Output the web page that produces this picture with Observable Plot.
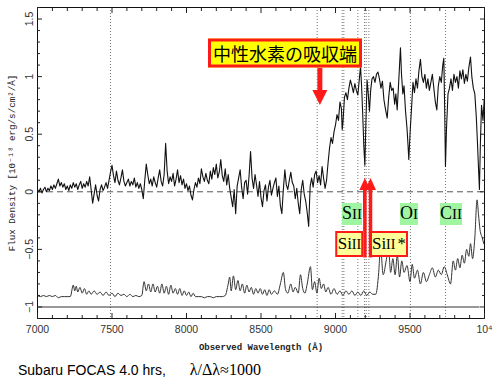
<!DOCTYPE html>
<html><head><meta charset="utf-8">
<script src="https://cdn.jsdelivr.net/npm/d3@7"></script>
<script src="https://cdn.jsdelivr.net/npm/@observablehq/plot@0.6"></script>
<style>
body{margin:0;background:#fff;}
#wrap{position:relative;width:500px;height:377px;overflow:hidden;background:#fff;}
.ann{position:absolute;transform:translate(-50%,-50%);white-space:nowrap;color:#000;}
.jp{font-family:"Noto Sans CJK JP",sans-serif;font-size:18px;line-height:19px;background:#ffff00;border:3px solid #ff1a1a;padding:2px 2px;}
.green{font-family:"Liberation Serif",serif;font-size:18px;line-height:19px;background:#a0f5a0;padding:1px 0px;}
.green .ion{font-size:15px;}
.pale{font-family:"Liberation Serif",serif;font-size:17px;line-height:19px;background:#ffff99;border:2px solid #ff1a1a;padding:1px 0px;}
.pale .ion{font-size:14px;}
.star{margin-left:2px;}
#caption{position:absolute;left:18px;top:362px;font-family:"Liberation Sans",Arial,sans-serif;font-size:14px;line-height:16px;white-space:nowrap;}
#caption .ser{font-family:"Liberation Serif",serif;font-size:16px;margin-left:24px;}
</style></head>
<body><div id="wrap"><div id="chart"></div><div id="caption">Subaru FOCAS 4.0 hrs,<span class="ser">λ/Δλ≈1000</span></div></div>
<script>
// Object spectrum, blue part: 7000–8950 Å every 10 Å
const specBlueStart = 7000, specBlueStep = 10;
const specBlueFlux = [
0.02,0.00,0.03,-0.01,0.02,0.04,0.00,0.03,0.01,0.05,0.02,
0.06,0.03,0.07,0.11,0.05,0.08,0.04,0.07,0.02,0.05,
0.01,0.06,0.03,0.08,0.04,0.07,0.02,0.06,0.09,0.03,
0.07,0.04,0.09,0.05,0.13,0.02,-0.10,-0.02,0.06,-0.03,
-0.08,0.02,0.06,0.01,0.04,0.08,0.03,0.10,0.17,0.23,
0.14,0.08,0.18,0.10,0.06,0.12,0.19,0.09,0.05,0.08,
0.11,0.05,0.09,0.06,0.12,0.04,0.08,0.03,0.07,0.02,
-0.06,0.10,0.24,0.15,0.07,0.11,0.05,0.13,0.08,0.04,
0.12,0.19,0.09,0.05,0.15,0.42,0.18,0.07,0.13,0.09,
0.16,0.05,0.11,0.19,0.08,0.14,0.06,0.11,0.03,0.07,
0.01,0.05,-0.03,-0.07,0.02,0.08,0.04,0.12,0.07,0.20,
0.13,0.09,0.16,0.10,0.07,0.18,0.11,0.21,0.15,0.24,
0.12,0.17,0.28,0.14,0.09,0.20,0.06,0.15,0.03,-0.05,
-0.13,0.02,-0.19,0.05,0.12,0.19,0.04,-0.06,0.08,0.10,
-0.02,0.14,0.35,0.12,0.03,0.15,0.06,-0.04,0.09,-0.05,
-0.13,0.01,0.06,-0.08,0.04,0.10,-0.03,0.03,0.08,0.12,
-0.04,0.05,-0.12,-0.19,0.02,0.19,0.06,0.02,0.10,0.17,
0.08,0.05,-0.06,0.03,-0.10,-0.19,0.02,0.10,-0.02,-0.08,
-0.18,-0.30,0.05,0.12,0.04,0.15,0.18,0.08,0.14,0.06,
0.22,0.12,0.03,0.10,0.25];
// Object spectrum, red part (above the Lyman-alpha edge)
const specRedWave = [8960,8970,8980,8990,9000,9010,9020,9030,9040,9045,9050,9060,9070,9080,9090,9100,9110,9120,9130,9140,9150,9160,9168,9175,9182,9190,9197,9204,9212,9220,9228,9236,9245,9255,9265,9275,9285,9295,9305,9315,9325,9335,9347,9357,9367,9377,9387,9397,9405,9414,9422,9430,9436,9443,9452,9460,9470,9480,9487,9492,9500,9510,9520,9530,9540,9550,9560,9570,9580,9590,9600,9610,9620,9630,9640,9650,9660,9670,9680,9690,9700,9710,9720,9727,9733,9738,9745,9755,9765,9775,9785,9795,9805,9815,9825,9835,9845,9855,9865,9875,9885,9895,9906,9915,9925,9935,9945,9952,9960,9966,9972,9980,9990,9998];
const specRedFlux = [0.38,0.47,0.42,0.52,0.58,0.67,0.62,0.78,0.72,0.54,0.60,0.82,0.86,0.80,0.90,0.97,0.92,0.86,0.94,0.88,0.84,0.98,1.09,0.92,0.70,0.40,0.23,0.60,0.97,0.85,0.70,0.88,0.98,1.00,0.95,1.02,1.04,0.98,0.90,0.96,0.80,0.72,0.64,0.82,0.95,0.88,0.90,0.76,0.85,0.71,0.90,1.10,1.25,1.02,0.85,0.92,0.70,0.55,0.40,0.28,0.50,0.72,0.95,0.86,0.98,0.90,1.05,1.15,1.00,0.95,1.02,0.90,0.98,0.88,0.95,1.02,0.90,0.78,0.71,0.92,1.00,0.95,1.10,1.16,0.70,0.22,0.55,0.85,0.90,0.98,0.88,1.02,0.95,1.00,0.90,1.05,0.98,1.06,0.94,1.02,0.96,1.08,1.17,1.00,0.90,0.85,0.65,0.45,0.20,0.02,0.40,0.75,0.62,0.80];
// Noise / sky spectrum (offset by -1)
const skyWave = [7000,7020,7040,7060,7080,7100,7120,7140,7160,7180,7200,7220,7240,7250,7260,7270,7285,7300,7315,7330,7345,7360,7380,7400,7420,7440,7460,7480,7500,7520,7540,7560,7580,7600,7620,7640,7660,7680,7700,7715,7730,7745,7760,7775,7790,7805,7820,7835,7850,7865,7880,7895,7910,7925,7940,7955,7970,7985,8000,8015,8030,8045,8060,8080,8100,8120,8140,8160,8180,8200,8220,8240,8260,8280,8290,8300,8315,8330,8345,8360,8375,8390,8405,8420,8435,8450,8465,8480,8495,8510,8525,8540,8555,8570,8590,8610,8630,8650,8665,8680,8700,8715,8730,8750,8765,8780,8795,8810,8832,8845,8860,8875,8890,8905,8920,8935,8950,8970,8990,9010,9030,9050,9070,9090,9110,9130,9150,9170,9190,9210,9230,9250,9270,9290,9302,9320,9340,9356,9370,9385,9400,9415,9430,9445,9460,9480,9500,9515,9530,9550,9570,9590,9610,9630,9650,9670,9690,9710,9730,9750,9772,9790,9805,9820,9835,9850,9865,9880,9895,9906,9920,9935,9950,9960,9970,9985,9995];
const skyFlux = [-0.90,-0.91,-0.90,-0.91,-0.90,-0.91,-0.90,-0.92,-0.91,-0.91,-0.91,-0.91,-0.81,-0.86,-0.82,-0.87,-0.83,-0.88,-0.84,-0.89,-0.86,-0.89,-0.86,-0.89,-0.87,-0.90,-0.87,-0.90,-0.88,-0.91,-0.88,-0.90,-0.89,-0.91,-0.89,-0.91,-0.90,-0.91,-0.90,-0.78,-0.86,-0.80,-0.87,-0.80,-0.87,-0.82,-0.88,-0.80,-0.88,-0.82,-0.89,-0.81,-0.88,-0.84,-0.89,-0.84,-0.90,-0.86,-0.90,-0.87,-0.91,-0.88,-0.91,-0.91,-0.91,-0.92,-0.91,-0.91,-0.92,-0.91,-0.91,-0.91,-0.90,-0.80,-0.74,-0.86,-0.73,-0.85,-0.77,-0.86,-0.80,-0.88,-0.81,-0.87,-0.83,-0.89,-0.84,-0.88,-0.84,-0.89,-0.85,-0.90,-0.85,-0.89,-0.86,-0.89,-0.80,-0.70,-0.85,-0.88,-0.80,-0.87,-0.83,-0.88,-0.72,-0.84,-0.88,-0.80,-0.65,-0.85,-0.78,-0.88,-0.75,-0.84,-0.80,-0.87,-0.83,-0.89,-0.84,-0.89,-0.86,-0.90,-0.86,-0.89,-0.86,-0.90,-0.87,-0.90,-0.86,-0.90,-0.87,-0.89,-0.89,-0.70,-0.48,-0.72,-0.60,-0.49,-0.70,-0.58,-0.72,-0.55,-0.74,-0.60,-0.70,-0.64,-0.78,-0.63,-0.75,-0.68,-0.80,-0.70,-0.78,-0.72,-0.66,-0.74,-0.68,-0.72,-0.65,-0.72,-0.80,-0.60,-0.68,-0.58,-0.66,-0.55,-0.62,-0.50,-0.56,-0.45,-0.58,-0.40,-0.07,-0.20,-0.33,-0.40,-0.45];
// Marked line positions (dotted verticals)
const lineWaves = [7490,8877,9045,9056,9150,9195,9206,9224,9503,9738];
// Axis ticks
const xTickValues = [7000,7500,8000,8500,9000,9500,10000];
const xTickLabels = ["7000","7500","8000","8500","9000","9500","10⁴"];
const xMinorTicks = [7100,7200,7300,7400,7600,7700,7800,7900,8100,8200,8300,8400,8600,8700,8800,8900,9100,9200,9300,9400,9600,9700,9800,9900];
const yTickValues = [-1,-0.5,0,0.5,1,1.5];
const yTickLabels = ["−1","−0.5","0","0.5","1","1.5"];
const yMinorTicks = [-1.1,-0.9,-0.8,-0.7,-0.6,-0.4,-0.3,-0.2,-0.1,0.1,0.2,0.3,0.4,0.6,0.7,0.8,0.9,1.1,1.2,1.3,1.4,1.6];
// Reference levels
const zeroLevel = [0];
const skyBase = [-1];
// Annotations
const annMain = ["中性水素の吸収端","S","O","C","Si","Si"];
const annIon = ["","II","I","II","II","II"];
const annStar = [false,false,false,false,false,true];
const annWave = [8664,9114,9497,9779,9097,9362];
const annFlux = [1.20,-0.20,-0.20,-0.20,-0.46,-0.46];
const annKind = ["jp","green","green","green","pale","pale"];
// Arrows: wavelength, tail, neck (head base), tip
const arrowWave = [8895,9197,9235];
const arrowTail = [1.075,-0.57,-0.57];
const arrowNeck = [0.88,0.02,0.02];
const arrowTip = [0.754,0.12,0.12];
const blueWave = [9190], blueFrom = [0.015], blueTo = [-0.22];

const spec = specBlueFlux.map((f,i)=>({w: specBlueStart + i*specBlueStep, f}))
  .concat(specRedWave.map((w,i)=>({w, f: specRedFlux[i]})));
const sky = skyWave.map((w,i)=>({w, f: skyFlux[i]}));
const arrows = arrowWave.map((w,i)=>({w, tail: arrowTail[i], neck: arrowNeck[i], tip: arrowTip[i], big: i===0}));
const blue = blueWave.map((w,i)=>({w, a: blueFrom[i], b: blueTo[i]}));
const xfmt = d => xTickLabels[xTickValues.indexOf(d)];

const chart = Plot.plot({
  width: 500, height: 352,
  marginLeft: 37, marginRight: 16, marginTop: 7, marginBottom: 34,
  x: {domain: [7000, 10000]},
  y: {domain: [-1.1, 1.6]},
  style: {fontFamily: "Liberation Sans, Arial, sans-serif", fontSize: "10.5px", color: "#222", background: "#fff"},
  marks: [
    Plot.ruleX(lineWaves, {stroke: "#777", strokeDasharray: "1,2", strokeWidth: 1}),
    Plot.ruleY(zeroLevel, {stroke: "#555", strokeDasharray: "6,4", strokeWidth: 1}),
    Plot.ruleY(skyBase, {x1: 7000, x2: 9970, stroke: "#333", strokeWidth: 1.2}),
    Plot.line(sky, {x: "w", y: "f", stroke: "#333", strokeWidth: 1, curve: "monotone-x"}),
    Plot.line(spec, {x: "w", y: "f", stroke: "#111", strokeWidth: 1.1}),
    Plot.link(blue, {x1: "w", x2: "w", y1: "a", y2: "b", stroke: "#2233dd", strokeWidth: 1.5}),
    Plot.link(arrows, {x1: "w", x2: "w", y1: "tail", y2: "neck", stroke: "#ff1a1a", strokeWidth: d => d.big ? 5 : 3.5}),
    Plot.vector(arrows.filter(d => d.big), {x: "w", y: "tip", anchor: "end", length: 15, r: 7.5, rotate: 180, shape: "spike", fill: "#ff1a1a", stroke: "none"}),
    Plot.vector(arrows.filter(d => !d.big), {x: "w", y: "tip", anchor: "end", length: 12, r: 5.5, rotate: 0, shape: "spike", fill: "#ff1a1a", stroke: "none"}),
    Plot.frame({stroke: "#111", strokeWidth: 1}),
    Plot.axisX({anchor: "bottom", ticks: xTickValues, tickSize: -5, tickFormat: () => "", label: null}),
    Plot.axisX({anchor: "bottom", ticks: xMinorTicks, tickSize: -3, tickFormat: () => "", label: null}),
    Plot.axisX({anchor: "top", ticks: xTickValues, tickSize: -5, tickFormat: () => "", label: null}),
    Plot.axisX({anchor: "top", ticks: xMinorTicks, tickSize: -3, tickFormat: () => "", label: null}),
    Plot.axisY({anchor: "left", ticks: yTickValues, tickSize: -5, tickFormat: () => "", label: null}),
    Plot.axisY({anchor: "left", ticks: yMinorTicks, tickSize: -3, tickFormat: () => "", label: null}),
    Plot.axisY({anchor: "right", ticks: yTickValues, tickSize: -5, tickFormat: () => "", label: null}),
    Plot.axisY({anchor: "right", ticks: yMinorTicks, tickSize: -3, tickFormat: () => "", label: null}),
    Plot.axisX({anchor: "bottom", ticks: xTickValues, tickSize: 0, tickPadding: 7, tickFormat: xfmt, label: null, fill: "#333"}),
    Plot.text(yTickValues, {y: d => d, text: (d, i) => yTickLabels[i], frameAnchor: "left", dx: -8, rotate: -90, textAnchor: "middle", lineAnchor: "middle", fill: "#333", fontSize: 10.5}),
    Plot.text(["Observed Wavelength (Å)"], {text: d => d, frameAnchor: "bottom", dy: 31, lineAnchor: "bottom", fontFamily: "Liberation Mono, monospace", fontWeight: "bold", fontSize: 9, fill: "#222"}),
    Plot.text(["Flux Density [10⁻¹⁸ erg/s/cm²/Å]"], {text: d => d, frameAnchor: "left", dx: -25, rotate: -90, textAnchor: "middle", lineAnchor: "middle", fontFamily: "Liberation Mono, monospace", fontSize: 9.2, fill: "#222"})
  ]
});
document.getElementById("chart").appendChild(chart);
const sx = chart.scale("x"), sy = chart.scale("y");
annMain.forEach((m, i) => {
  const el = document.createElement("div");
  el.className = "ann " + annKind[i];
  el.style.left = sx.apply(annWave[i]) + "px";
  el.style.top = sy.apply(annFlux[i]) + "px";
  el.appendChild(document.createTextNode(m));
  if (annIon[i]) {
    const s = document.createElement("span");
    s.className = "ion";
    s.textContent = annIon[i];
    el.appendChild(s);
  }
  if (annStar[i]) {
    const s = document.createElement("span");
    s.className = "star";
    s.textContent = "*";
    el.appendChild(s);
  }
  document.getElementById("wrap").appendChild(el);
});
</script></body></html>
